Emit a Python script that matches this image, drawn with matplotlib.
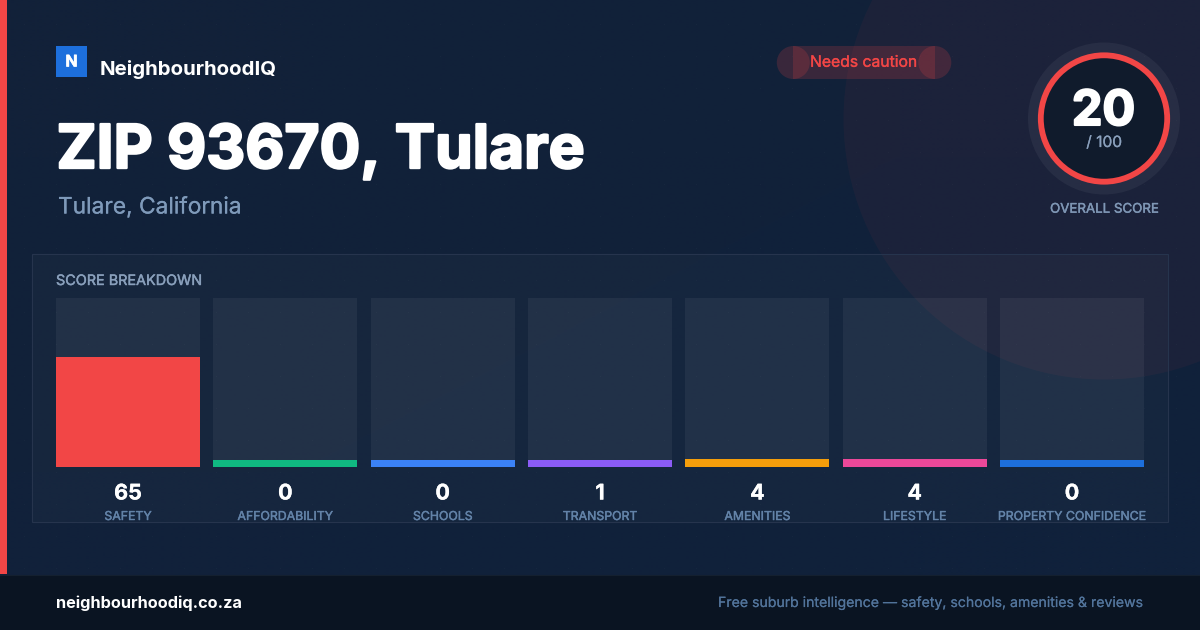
import numpy as np
import matplotlib
matplotlib.use("Agg")
import matplotlib.pyplot as plt
import matplotlib.patheffects as pe
from matplotlib.patches import Circle, Rectangle

categories = ["SAFETY", "AFFORDABILITY", "SCHOOLS", "TRANSPORT", "AMENITIES", "LIFESTYLE", "PROPERTY CONFIDENCE"]
scores = [65, 0, 0, 1, 4, 4, 0]
# Drawn fill heights (percent of track): the source draws small scores with a minimum stub
fill_heights = [65, 4.1, 4.1, 4.1, 4.7, 4.7, 4.1]
colors = ["#f24646", "#10b981", "#3b82f6", "#8b5cf6", "#f59e0b", "#ec4899", "#1d6fdc"]
overall = 20

plt.rcParams['font.family'] = ['Inter', 'DejaVu Sans']
W, H = 1200, 630
fig = plt.figure(figsize=(12, 6.3), dpi=100)
bg = fig.add_axes([0, 0, 1, 1])
bg.set_xlim(0, W); bg.set_ylim(H, 0); bg.axis('off')
px = 0.72  # points per pixel at dpi 100


def label(x, y, s, color, size, stroke=0.0, **kw):
    t = bg.text(x, y, s, color=color, fontsize=size * px, va='baseline', zorder=8, **kw)
    if stroke:
        t.set_path_effects([pe.withStroke(linewidth=stroke, foreground=color)])
    return t


# background gradient
grad = np.array([[0.0, 0.5], [0.5, 1.0]])
c0 = np.array([0x12, 0x21, 0x39]) / 255
c1 = np.array([0x10, 0x21, 0x3b]) / 255
img = c0[None, None, :] * (1 - grad[..., None]) + c1[None, None, :] * grad[..., None]
bg.imshow(img, extent=[0, W, H, 0], aspect='auto', interpolation='bilinear', zorder=0)

# faint dot grid
gx, gy = np.meshgrid(np.arange(24, W, 32), np.arange(24, 574, 32))
bg.scatter(gx.ravel(), gy.ravel(), s=1.2, color='white', alpha=0.025, linewidths=0, zorder=1)

# large decorative circle
bg.add_patch(Circle((1104, 119), 260.5, facecolor='#f24646', alpha=0.05, edgecolor='none', zorder=2))

# left strip and footer
bg.add_patch(Rectangle((0, 0), 7, 574, facecolor='#f24646', edgecolor='none', zorder=6))
bg.add_patch(Rectangle((0, 574.5), W, 56, facecolor='#0a1422', edgecolor='none', zorder=6))
bg.plot([0, W], [574.5, 574.5], color='#14202f', lw=0.8, zorder=7)

# logo
bg.add_patch(Rectangle((56, 46), 31, 31, facecolor='#1d6fdc', edgecolor='none', zorder=5))
label(71.5, 66.5, "N", 'white', 16, stroke=0.4, fontweight='bold', ha='center')
label(100, 75, "NeighbourhoodIQ", 'white', 20.4, fontweight='bold', ha='left')

# title
label(56.5, 168, "ZIP 93670, Tulare", 'white', 60.4, stroke=1.7, fontweight='bold', ha='left')
label(58, 213.5, "Tulare, California", '#7f9aba', 22.7, stroke=0.15, ha='left')

# pill
for patch in (Rectangle((793.3, 46), 141.5, 33, facecolor='#f24646', alpha=0.18, edgecolor='none', zorder=4),
              Circle((793.3, 62.5), 16.5, facecolor='#f24646', alpha=0.18, edgecolor='none', zorder=4),
              Circle((934.8, 62.5), 16.5, facecolor='#f24646', alpha=0.18, edgecolor='none', zorder=4)):
    bg.add_patch(patch)
label(863.5, 66.8, "Needs caution", '#f24646', 15.7, stroke=0.25, ha='center')

# overall score ring
cx, cy = 1104, 118.5
bg.add_patch(Circle((cx, cy), 76, facecolor='white', alpha=0.05, edgecolor='none', zorder=4))
bg.add_patch(Circle((cx, cy), 63.2, facecolor='#101b2c', edgecolor='#f24646', lw=5.8 * px, zorder=5))
label(cx - 0.5, 125, str(overall), 'white', 48.5, stroke=1.5, fontweight='bold', ha='center')
label(cx, 147, "/ 100", '#8aa0bc', 15.5, stroke=0.15, ha='center')
label(cx, 212.7, "OVERALL SCORE", '#7f97b5', 13.3, stroke=0.3, ha='center')

# breakdown panel
bg.add_patch(Rectangle((32, 254), 1136, 268, facecolor='white', alpha=0.022, edgecolor='none', zorder=3))
bg.add_patch(Rectangle((32, 254), 1136, 268, facecolor='none', edgecolor='#26344d', lw=0.8, zorder=3))
label(56, 285, "SCORE BREAKDOWN", '#8aa0bc', 14.4, stroke=0.3, ha='left')

# bars on a real axes
x0, x1, ytop, ybot = 56, 1144, 298, 467
ax = fig.add_axes([x0 / W, 1 - ybot / H, (x1 - x0) / W, (ybot - ytop) / H], facecolor='none')
step = (x1 - x0 - 144) / 6
hw = 72 / step
ax.set_xlim(-hw, 6 + hw); ax.set_ylim(0, 100); ax.axis('off')
xs = np.arange(len(categories))
ax.bar(xs, [100] * len(xs), width=2 * hw, color='white', alpha=0.055, linewidth=0, zorder=1)
ax.bar(xs, fill_heights, width=2 * hw, color=colors, linewidth=0, zorder=2)

centers = [x0 + 72 + step * i for i in xs]
for c, s, lab in zip(centers, scores, categories):
    label(c, 499.5, str(s), 'white', 21.5, stroke=0.2, fontweight='bold', ha='center')
    label(c, 520, lab, '#6383a8', 12.3, stroke=0.3, ha='center')

# footer text
label(56, 608, "neighbourhoodiq.co.za", 'white', 16.3, fontweight='bold', ha='left')
label(718, 607, "Free suburb intelligence \u2014 safety, schools, amenities & reviews", '#52749b', 14.1, stroke=0.1, ha='left')

fig.savefig("out.png", dpi=100)
